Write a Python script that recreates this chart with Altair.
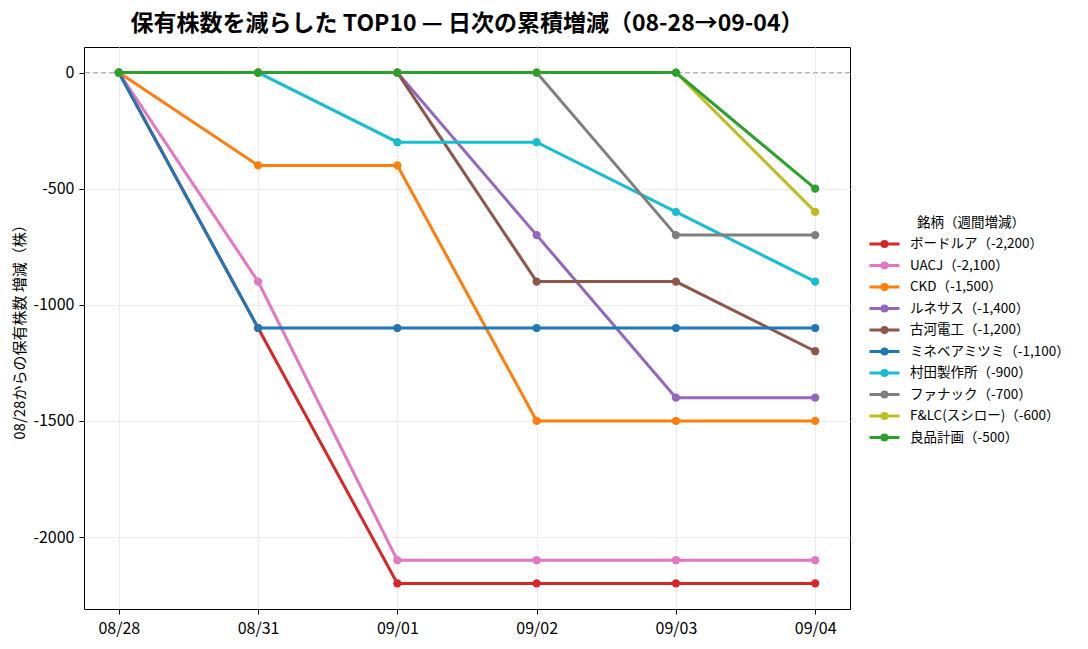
import altair as alt
import pandas as pd

FONT = "Noto Sans CJK JP"

dates = ["08/28", "08/31", "09/01", "09/02", "09/03", "09/04"]

names = ["ボードルア", "UACJ", "CKD", "ルネサス", "古河電工",
         "ミネベアミツミ", "村田製作所", "ファナック", "F&LC(スシロー)", "良品計画"]
weekly = ["-2,200", "-2,100", "-1,500", "-1,400", "-1,200",
          "-1,100", "-900", "-700", "-600", "-500"]
colors = ["#d62728", "#e377c2", "#ff7f0e", "#9467bd", "#8c564b",
          "#1f77b4", "#17becf", "#7f7f7f", "#bcbd22", "#2ca02c"]

boardrua = [0, -1100, -2200, -2200, -2200, -2200]
uacj = [0, -900, -2100, -2100, -2100, -2100]
ckd = [0, -400, -400, -1500, -1500, -1500]
renesas = [0, 0, 0, -700, -1400, -1400]
furukawa = [0, 0, 0, -900, -900, -1200]
minebea = [0, -1100, -1100, -1100, -1100, -1100]
murata = [0, 0, -300, -300, -600, -900]
fanuc = [0, 0, 0, 0, -700, -700]
flc = [0, 0, 0, 0, 0, -600]
ryohin = [0, 0, 0, 0, 0, -500]

series = [boardrua, uacj, ckd, renesas, furukawa,
          minebea, murata, fanuc, flc, ryohin]

labels = [f"{n}（{w}）" for n, w in zip(names, weekly)]

rows = []
for lab, vals in zip(labels, series):
    for d, v in zip(dates, vals):
        rows.append({"date": d, "value": v, "name": lab})
df = pd.DataFrame(rows)

# line with a dot in the middle, for the legend
legend_symbol = ("M-1.5,0 H1.5 "
                 "M0.25,0 A0.25,0.25 0 1,1 -0.25,0 A0.25,0.25 0 1,1 0.25,0 "
                 "M0.1,0 A0.1,0.1 0 1,1 -0.1,0 A0.1,0.1 0 1,1 0.1,0")

x_enc = alt.X("date:O", sort=dates, scale=alt.Scale(type="point", padding=0.25),
              axis=alt.Axis(title=None, labelAngle=0, grid=True, labelPadding=6))
y_enc = alt.Y("value:Q", scale=alt.Scale(domain=[-2310, 110], nice=False, zero=False),
              axis=alt.Axis(title="08/28からの保有株数 増減（株）", values=[0, -500, -1000, -1500, -2000],
                            titlePadding=5, labelPadding=5,
                            labelExpr="datum.value == 0 ? '0' : '-' + format(-datum.value, 'd')"))

zero = alt.Chart(pd.DataFrame({"y": [0]})).mark_rule(
    color="#b5b5b5", strokeDash=[5, 3], strokeWidth=1.2
).encode(y=alt.Y("y:Q"))

lines = alt.Chart(df).mark_line(
    strokeWidth=3,
    point=alt.OverlayMarkDef(filled=True, size=68),
).encode(
    x=x_enc,
    y=y_enc,
    color=alt.Color(
        "name:N",
        scale=alt.Scale(domain=labels, range=colors),
        legend=alt.Legend(
            title="銘柄（週間増減）",
            orient="none",
            legendX=789,
            legendY=169,
            symbolType=legend_symbol,
            symbolSize=400,
            symbolStrokeWidth=3,
            labelOffset=14,
            rowPadding=1.5,
            titlePadding=3,
            padding=0,
            titleAnchor="middle",
        ),
    ),
)

chart = alt.layer(zero, lines).properties(
    width=766,
    height=562,
    autosize=alt.AutoSizeParams(type="none"),
    padding={"left": 76, "top": 39, "right": 220, "bottom": 40},
    title=alt.Title(
        "保有株数を減らした TOP10 — 日次の累積増減（08-28→09-04）",
        fontSize=23, fontWeight="bold", font=FONT, color="black", anchor="middle", offset=11,
    ),
).configure_view(
    stroke="black", strokeWidth=1
).configure_axis(
    labelFont=FONT, titleFont=FONT, labelFontSize=16, titleFontSize=15,
    labelColor="black", titleColor="black", titleFontWeight="normal",
    domain=False, tickColor="black", tickSize=5,
    gridColor="#ebebeb", gridWidth=1,
).configure_legend(
    labelFont=FONT, titleFont=FONT, labelFontSize=13.5, titleFontSize=13.5,
    labelColor="black", titleColor="black", titleFontWeight="normal",
)

chart.save("out.html", embed_options={"renderer": "svg", "actions": False})
